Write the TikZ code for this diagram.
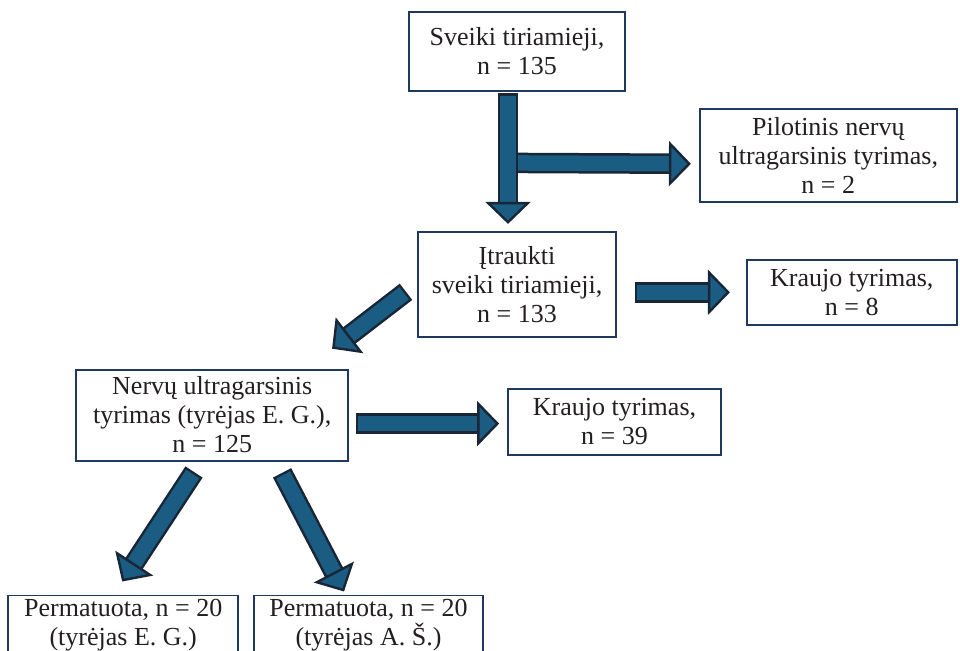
\documentclass[tikz,border=0pt]{standalone}
\usepackage{fontspec}
\setmainfont{Liberation Serif}
\usepackage{tikz}
\usetikzlibrary{arrows.meta,positioning}

\definecolor{boxline}{RGB}{31,56,96}
\definecolor{flowfill}{RGB}{26,92,130}
\definecolor{flowline}{RGB}{24,38,54}
\definecolor{txt}{RGB}{35,31,32}

\begin{document}
\begin{tikzpicture}[
  box/.style={rectangle, draw=boxline, line width=1.8pt, fill=white,
              align=center, text=txt, inner sep=0pt,
              font=\fontsize{26}{29}\selectfont},
  flow/.style={draw=flowfill, line width=15.5pt,
               preaction={draw=flowline, line width=20.5pt, -,
                          shorten >=15pt, shorten <=-2.4pt},
               -{Triangle[length=22pt, width=45pt, line width=2.4pt,
                          color=flowline, fill=flowfill]}}
]
\useasboundingbox (0,0) rectangle (960pt,-650pt);
\node[box, minimum width=216pt, minimum height=79pt] (start) at (517pt,-51.5pt)
  {Sveiki tiriamieji,\\n = 135};
\node[box, minimum width=257pt, minimum height=93pt,
      below right=16pt and 73pt of start] (pilot)
  {Pilotinis nervų\\ultragarsinis tyrimas,\\n = 2};
\node[box, minimum width=198pt, minimum height=105pt, below=139pt of start] (incl)
  {Įtraukti\\sveiki tiriamieji,\\n = 133};
\node[box, minimum width=210pt, minimum height=65pt,
      right=129pt of incl, yshift=-8pt] (blood1) {Kraujo tyrimas,\\n = 8};
\node[box, minimum width=272pt, minimum height=91pt,
      below left=31pt and 68pt of incl] (nus)
  {Nervų ultragarsinis\\tyrimas (tyrėjas E. G.),\\n = 125};
\node[box, minimum width=213pt, minimum height=66pt,
      right=158pt of nus, yshift=-6.5pt] (blood2) {Kraujo tyrimas,\\n = 39};
\node[box, minimum width=230pt, minimum height=60pt,
      below=133pt of nus.south west, anchor=north west, xshift=-68pt] (rem1)
  {Permatuota, n = 20\\(tyrėjas E. G.)};
\node[box, minimum width=229pt, minimum height=60pt, right=14pt of rem1] (rem2)
  {Permatuota, n = 20\\(tyrėjas A. Š.)};

% block arrows
\coordinate (split) at ([xshift=-9pt,yshift=-71pt]start.south);
\draw[flow] (split) -- ([xshift=-8pt,yshift=-8.5pt]pilot.west);
\draw[flow] ([xshift=-9pt,yshift=-4pt]start.south) -- ([xshift=-9pt,yshift=7pt]incl.north);
\draw[flow] ([xshift=20pt,yshift=-8pt]incl.east) -- ([xshift=-16pt]blood1.west);
\draw[flow] ([xshift=-13pt,yshift=-9pt]incl.west) -- ([xshift=-17pt,yshift=20pt]nus.north east);
\draw[flow] ([xshift=9pt,yshift=-8.5pt]nus.east) -- ([xshift=-8pt,yshift=-2pt]blood2.west);
\draw[flow] ([xshift=-19.5pt,yshift=-12.5pt]nus.south) -- ([xshift=-1pt,yshift=13pt]rem1.north);
\draw[flow] ([xshift=71pt,yshift=-13.5pt]nus.south) -- ([xshift=-24.5pt,yshift=3pt]rem2.north);
\end{tikzpicture}
\end{document}
